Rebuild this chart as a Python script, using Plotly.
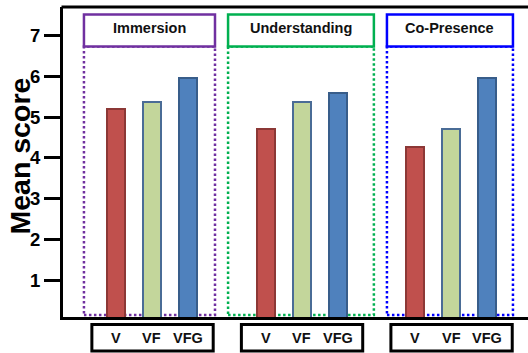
import plotly.graph_objects as go

# Data
groups = ["Immersion", "Understanding", "Co-Presence"]
conditions = ["V", "VF", "VFG"]
score_V = [5.20, 4.72, 4.26]
score_VF = [5.37, 5.37, 4.72]
score_VFG = [5.96, 5.60, 5.96]
y_ticks = [1, 2, 3, 4, 5, 6, 7]

# Styling
FONT = "Liberation Sans, Arial, sans-serif"
bar_fill = ["#C0504D", "#C3D69B", "#4F81BD"]
bar_edge = ["#8C3836", "#4A6C96", "#385D8A"]
group_colors = ["#7030A0", "#00B050", "#0000FF"]

W, H = 528, 353
L, R, T, B = 63, 528, 7, 317          # plot area in pixels
XMIN, XMAX = -1.472, 11.444
YMIN, YMAX = 0.103, 7.696
GROUP_STEP = 4.153
BAR_WIDTH = 0.5
# header / footer box extents relative to the middle bar of each group (x units)
header_span = [(-1.89, 1.75), (-2.04, 2.01), (-1.78, 1.72)]
footer_span = (-1.67, 1.70)


def x_paper(x):
    return (x - XMIN) / (XMAX - XMIN)


def px_to_xpaper(px):
    return (px - L) / (R - L)


def px_to_ypaper(py):
    return (B - py) / (B - T)


series = [score_V, score_VF, score_VFG]
fig = go.Figure()
for b, (name, vals) in enumerate(zip(conditions, series)):
    xs = [g * GROUP_STEP + b for g in range(len(groups))]
    fig.add_trace(go.Bar(
        x=xs, y=vals, name=name, width=BAR_WIDTH,
        marker=dict(color=bar_fill[b], line=dict(color=bar_edge[b], width=2)),
        showlegend=False,
    ))

shapes = []
annotations = []
hdr_top, hdr_bot = px_to_ypaper(14.5), px_to_ypaper(46.5)
dot_bot = px_to_ypaper(315)
for g, name in enumerate(groups):
    mid = g * GROUP_STEP + 1
    x0, x1 = x_paper(mid + header_span[g][0]), x_paper(mid + header_span[g][1])
    col = group_colors[g]
    # dotted region under the header
    shapes.append(dict(type="rect", xref="paper", yref="paper",
                       x0=x0, x1=x1, y0=dot_bot, y1=hdr_bot, layer="below",
                       line=dict(color=col, width=2.5, dash="2.5px,2.5px")))
    # header box
    shapes.append(dict(type="rect", xref="paper", yref="paper",
                       x0=x0, x1=x1, y0=hdr_bot, y1=hdr_top, layer="above",
                       fillcolor="white",
                       line=dict(color=col, width=2.5)))
    annotations.append(dict(text=name, xref="paper", yref="paper",
                            x=(x0 + x1) / 2, y=px_to_ypaper(27.5),
                            xanchor="center", yanchor="middle", showarrow=False,
                            font=dict(family=FONT, size=14.5, color="#111", weight=700)))
    # condition label box below the axis
    f0, f1 = x_paper(mid + footer_span[0]), x_paper(mid + footer_span[1])
    shapes.append(dict(type="rect", xref="paper", yref="paper",
                       x0=f0, x1=f1, y0=px_to_ypaper(351), y1=px_to_ypaper(324.5),
                       line=dict(color="black", width=3)))
    for b, cond in enumerate(conditions):
        annotations.append(dict(text=cond, xref="paper", yref="paper",
                                x=x_paper(g * GROUP_STEP + b), y=px_to_ypaper(338),
                                xanchor="center", yanchor="middle", showarrow=False,
                                font=dict(family=FONT, size=14.5, color="#111", weight=700)))

# top border line
shapes.append(dict(type="line", xref="paper", yref="paper",
                   x0=px_to_xpaper(61.5), x1=1, y0=1, y1=1,
                   line=dict(color="black", width=3)))

# y-axis title
annotations.append(dict(text="Mean score", xref="paper", yref="paper",
                        x=px_to_xpaper(19), y=px_to_ypaper(156.5), textangle=-90,
                        xanchor="center", yanchor="middle", showarrow=False,
                        font=dict(family=FONT, size=28.5, color="black", weight=700)))

fig.update_layout(
    width=W, height=H,
    margin=dict(l=L, r=W - R, t=T, b=H - B),
    paper_bgcolor="white", plot_bgcolor="white",
    bargap=0, barmode="overlay",
    shapes=shapes, annotations=annotations,
    xaxis=dict(range=[XMIN, XMAX], showgrid=False, zeroline=False,
               showticklabels=False, ticks="", showline=True,
               linecolor="black", linewidth=3, fixedrange=True),
    yaxis=dict(range=[YMIN, YMAX], showgrid=False, zeroline=False,
               tickvals=y_ticks, ticktext=[str(t) for t in y_ticks],
               ticks="outside", ticklen=16, tickwidth=3, tickcolor="black",
               showline=True, linecolor="black", linewidth=3,
               tickfont=dict(family=FONT, size=18.5, color="black", weight=700),
               fixedrange=True),
)

fig.write_html("out.html")
